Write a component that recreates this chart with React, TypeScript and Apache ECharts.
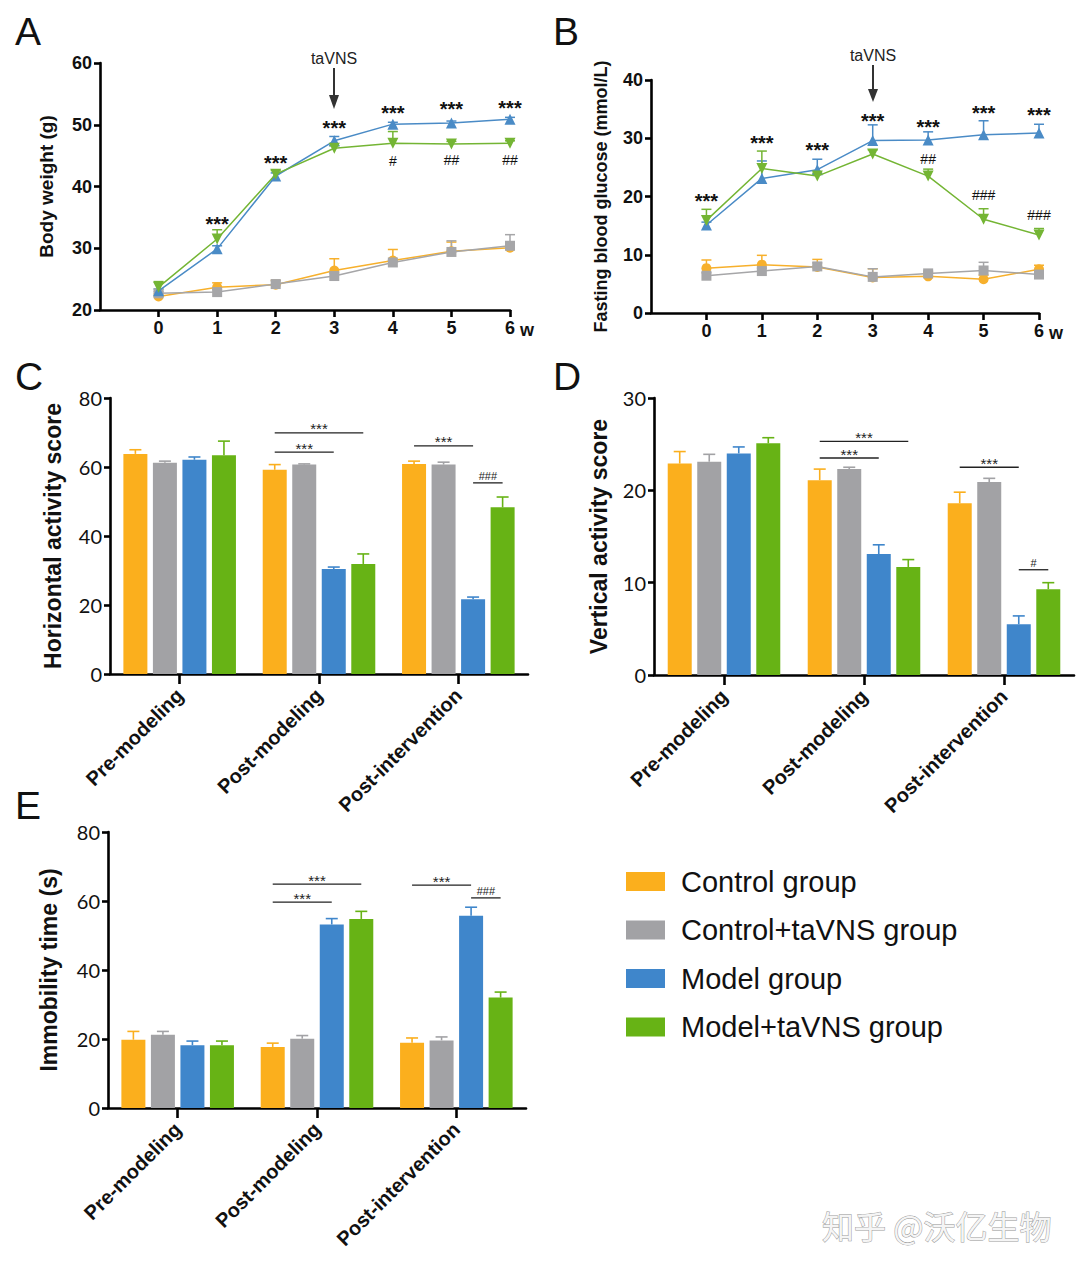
import React, { useEffect, useRef } from "react";
import * as echarts from "echarts";

const groups = ["Control group", "Control+taVNS group", "Model group", "Model+taVNS group"];
const barColors = ["#FBAF1D", "#A2A2A5", "#3F86CB", "#67B315"];
const lineColors = ["#F7B02C", "#A6A6A8", "#4A8BC6", "#74B534"];
const symbols = ["circle", "rect", "triangle", "triangle"];
const symbolRotates = [0, 0, 0, 180];

const weeks = [0, 1, 2, 3, 4, 5, 6];
const weightMean = [
  [22.2, 23.7, 24.1, 26.4, 28.0, 29.5, 30.1],
  [22.7, 22.9, 24.2, 25.5, 27.7, 29.4, 30.4],
  [23.1, 29.9, 41.7, 47.4, 50.1, 50.3, 50.9],
  [23.7, 31.5, 42.0, 46.2, 47.0, 46.9, 47.0],
];
const weightErr = [
  [22.6, 24.4, 24.8, 28.3, 29.8, 31.0, 31.0],
  [23.0, 23.3, 24.7, 26.0, 28.1, 31.2, 32.2],
  [23.4, 30.4, 42.2, 48.1, 50.4, 50.6, 51.2],
  [24.6, 33.0, 42.6, 46.6, 48.9, 47.3, 47.4],
];
const weightSig: [number, number, string][] = [
  [1, 34.5, "***"], [2, 44.4, "***"], [3, 50.1, "***"], [4, 52.6, "***"], [5, 53.2, "***"], [6, 53.4, "***"],
  [4, 44.1, "#"], [5, 44.3, "##"], [6, 44.3, "##"],
];

const glucoseMean = [
  [7.7, 8.3, 7.9, 6.1, 6.3, 5.8, 7.5],
  [6.4, 7.2, 8.0, 6.2, 6.8, 7.3, 6.6],
  [15.1, 23.1, 24.6, 29.6, 29.7, 30.6, 30.9],
  [15.9, 24.8, 23.5, 27.3, 23.5, 16.1, 13.4],
];
const glucoseErr = [
  [9.1, 9.9, 9.2, 7.6, 7.0, 6.5, 8.2],
  [6.9, 7.7, 8.6, 7.6, 7.2, 8.7, 7.1],
  [15.6, 26.1, 26.4, 32.3, 31.1, 33.0, 32.4],
  [17.8, 27.8, 24.0, 28.0, 24.7, 17.9, 14.5],
];
const glucoseSig: [number, number, string][] = [
  [0, 19.9, "***"], [1, 29.8, "***"], [2, 28.6, "***"], [3, 33.7, "***"], [4, 32.7, "***"], [5, 35.0, "***"], [6, 34.7, "***"],
  [4, 26.4, "##"], [5, 20.3, "###"], [6, 16.9, "###"],
];

const phases = ["Pre-modeling", "Post-modeling", "Post-intervention"];
const horizMean = [
  [63.8, 59.2, 60.9],
  [61.2, 60.7, 60.7],
  [62.1, 30.4, 21.7],
  [63.4, 31.9, 48.3],
];
const horizErr = [
  [65.0, 60.7, 61.7],
  [61.7, 60.9, 61.4],
  [62.9, 31.0, 22.3],
  [67.5, 34.8, 51.3],
];
const horizSig: [number, number, number, number, string][] = [
  [1, 0, 3, 69.9, "***"], [1, 0, 2, 64.3, "***"], [2, 0, 2, 66.1, "***"], [2, 2, 3, 55.4, "###"],
];

const vertMean = [
  [22.9, 21.1, 18.6],
  [23.1, 22.3, 20.9],
  [24.0, 13.1, 5.5],
  [25.1, 11.7, 9.3],
];
const vertErr = [
  [24.2, 22.3, 19.8],
  [23.9, 22.5, 21.3],
  [24.7, 14.1, 6.4],
  [25.7, 12.5, 10.0],
];
const vertSig: [number, number, number, number, string][] = [
  [1, 0, 3, 25.3, "***"], [1, 0, 2, 23.5, "***"], [2, 0, 2, 22.5, "***"], [2, 2, 3, 11.4, "#"],
];

const immobMean = [
  [19.8, 17.7, 18.9],
  [21.2, 20.1, 19.6],
  [18.2, 53.2, 55.7],
  [18.2, 54.8, 32.0],
];
const immobErr = [
  [22.2, 18.8, 20.3],
  [22.2, 21.0, 20.6],
  [19.4, 54.9, 58.2],
  [19.4, 57.0, 33.6],
];
const immobSig: [number, number, number, number, string][] = [
  [1, 0, 3, 64.9, "***"], [1, 0, 2, 59.7, "***"], [2, 0, 2, 64.6, "***"], [2, 2, 3, 60.9, "###"],
];

const ARIAL = "'Liberation Sans', Arial, Helvetica, sans-serif";
const LATO = "Lato, 'Open Sans', sans-serif";
const BAR_W = 24;
const BAR_GAP = 0.23;
const STEP = BAR_W * (1 + BAR_GAP);

function buildOption() {
  const grids = [
    { left: 100, top: 63, width: 410, height: 247 },
    { left: 651, top: 80, width: 388, height: 233 },
    { left: 110, top: 398, width: 418, height: 276 },
    { left: 654, top: 398, width: 420, height: 277 },
    { left: 108, top: 832, width: 418, height: 276 },
  ];

  const axisLine = { show: true, onZero: false, lineStyle: { color: "#000", width: 2.6 } };

  const lineX = (i: number) => ({
    gridIndex: i,
    type: "value",
    min: -1,
    max: 6,
    interval: 1,
    axisLine,
    axisTick: { show: true, length: 7, lineStyle: { color: "#000", width: 2.6 }, customValues: weeks },
    axisLabel: { customValues: weeks, fontFamily: ARIAL, fontWeight: "bold", fontSize: 18, color: "#111", margin: 9 },
    splitLine: { show: false },
  });
  const lineY = (i: number, min: number, max: number, name: string, gap: number, fs: number) => ({
    gridIndex: i,
    type: "value",
    min,
    max,
    interval: 10,
    axisLine,
    axisTick: { show: true, length: 6, lineStyle: { color: "#000", width: 2.6 } },
    axisLabel: { fontFamily: ARIAL, fontWeight: "bold", fontSize: 18, color: "#111", margin: 8 },
    splitLine: { show: false },
    name,
    nameLocation: "middle",
    nameGap: gap,
    nameTextStyle: { fontFamily: ARIAL, fontWeight: "bold", fontSize: fs, color: "#111" },
  });
  const barX = (i: number) => ({
    gridIndex: i,
    type: "category",
    data: phases,
    axisLine,
    axisTick: { show: true, alignWithLabel: true, length: 10, lineStyle: { color: "#000", width: 2.6 } },
    axisLabel: { interval: 0, rotate: 45, fontFamily: ARIAL, fontWeight: "bold", fontSize: 20, color: "#111", margin: 18 },
    splitLine: { show: false },
  });
  const barY = (i: number, max: number, interval: number, name: string, gap: number) => ({
    gridIndex: i,
    type: "value",
    min: 0,
    max,
    interval,
    axisLine,
    axisTick: { show: true, length: 6, lineStyle: { color: "#000", width: 2.6 } },
    axisLabel: { fontFamily: LATO, fontSize: 20, color: "#111", margin: 8 },
    splitLine: { show: false },
    name,
    nameLocation: "middle",
    nameGap: gap,
    nameTextStyle: { fontFamily: ARIAL, fontWeight: "bold", fontSize: 23, color: "#111" },
  });

  const series: any[] = [];

  const barPanels = [
    { idx: 2, mean: horizMean, err: horizErr, sig: horizSig },
    { idx: 3, mean: vertMean, err: vertErr, sig: vertSig },
    { idx: 4, mean: immobMean, err: immobErr, sig: immobSig },
  ];
  barPanels.forEach((p) => {
    groups.forEach((g, k) => {
      series.push({
        name: g,
        type: "bar",
        xAxisIndex: p.idx,
        yAxisIndex: p.idx,
        data: p.mean[k],
        barWidth: BAR_W,
        barGap: `${BAR_GAP * 100}%`,
        itemStyle: { color: barColors[k] },
        z: 2,
      });
    });
    groups.forEach((g, k) => {
      series.push({
        type: "custom",
        xAxisIndex: p.idx,
        yAxisIndex: p.idx,
        data: phases.map((_, j) => [j, p.mean[k][j], p.err[k][j]]),
        z: 1,
        silent: true,
        renderItem: (params: any, api: any) => {
          const c = api.value(0);
          const a = api.coord([c, api.value(1)]);
          const b = api.coord([c, api.value(2)]);
          const x = a[0] + (k - 1.5) * STEP;
          const col = barColors[k];
          return {
            type: "group",
            children: [
              { type: "line", shape: { x1: x, y1: a[1], x2: x, y2: b[1] }, style: { stroke: col, lineWidth: 1.6 } },
              { type: "line", shape: { x1: x - 6, y1: b[1], x2: x + 6, y2: b[1] }, style: { stroke: col, lineWidth: 1.6 } },
            ],
          };
        },
      });
    });
    series.push({
      type: "custom",
      xAxisIndex: p.idx,
      yAxisIndex: p.idx,
      data: p.sig.map((s) => [s[0], s[3]]),
      z: 5,
      silent: true,
      renderItem: (params: any, api: any) => {
        const s = p.sig[params.dataIndex];
        const base = api.coord([s[0], s[3]]);
        const x1 = base[0] + (s[1] - 1.5) * STEP;
        const x2 = base[0] + (s[2] - 1.5) * STEP;
        const isStar = s[4].indexOf("*") >= 0;
        return {
          type: "group",
          children: [
            { type: "line", shape: { x1, y1: base[1], x2, y2: base[1] }, style: { stroke: "#222", lineWidth: 1.3 } },
            {
              type: "text",
              x: (x1 + x2) / 2,
              y: base[1] - (isStar ? 4 : 7),
              style: {
                text: s[4],
                fontFamily: ARIAL,
                fontSize: isStar ? 15 : 11,
                fill: "#222",
                align: "center",
                verticalAlign: "middle",
              },
            },
          ],
        };
      },
    });
  });

  const linePanels = [
    { idx: 0, mean: weightMean, err: weightErr, sig: weightSig },
    { idx: 1, mean: glucoseMean, err: glucoseErr, sig: glucoseSig },
  ];
  linePanels.forEach((p) => {
    groups.forEach((g, k) => {
      series.push({
        type: "custom",
        xAxisIndex: p.idx,
        yAxisIndex: p.idx,
        data: weeks.map((w, j) => [w, p.mean[k][j], p.err[k][j]]),
        z: 2,
        silent: true,
        renderItem: (params: any, api: any) => {
          const a = api.coord([api.value(0), api.value(1)]);
          const b = api.coord([api.value(0), api.value(2)]);
          const col = lineColors[k];
          return {
            type: "group",
            children: [
              { type: "line", shape: { x1: a[0], y1: a[1], x2: b[0], y2: b[1] }, style: { stroke: col, lineWidth: 1.5 } },
              { type: "line", shape: { x1: b[0] - 5, y1: b[1], x2: b[0] + 5, y2: b[1] }, style: { stroke: col, lineWidth: 1.5 } },
            ],
          };
        },
      });
    });
    groups.forEach((g, k) => {
      series.push({
        name: g,
        type: "line",
        xAxisIndex: p.idx,
        yAxisIndex: p.idx,
        data: weeks.map((w, j) => [w, p.mean[k][j]]),
        symbol: symbols[k],
        symbolSize: k >= 2 ? 11 : 10,
        symbolRotate: symbolRotates[k],
        lineStyle: { color: lineColors[k], width: 1.5 },
        itemStyle: { color: lineColors[k] },
        z: 3 + k,
        silent: true,
      });
    });
    series.push({
      type: "custom",
      xAxisIndex: p.idx,
      yAxisIndex: p.idx,
      data: p.sig.map((s) => [s[0], s[1]]),
      z: 10,
      silent: true,
      renderItem: (params: any, api: any) => {
        const s = p.sig[params.dataIndex];
        const c = api.coord([s[0], s[1]]);
        const isStar = s[2].indexOf("*") >= 0;
        return {
          type: "text",
          x: c[0],
          y: c[1] + (isStar ? 4 : 0),
          style: {
            text: s[2],
            fontFamily: ARIAL,
            fontWeight: isStar ? "bold" : "normal",
            fontSize: isStar ? 20 : 14,
            fill: "#111",
            align: "center",
            verticalAlign: "middle",
          },
        };
      },
    });
  });

  const letter = (t: string, x: number, y: number) => ({
    type: "text",
    left: x,
    top: y,
    style: { text: t, fontFamily: ARIAL, fontSize: 39, fill: "#111" },
  });

  const graphic: any[] = [
    letter("A", 15, 12),
    letter("B", 553, 12),
    letter("C", 15, 357),
    letter("D", 553, 357),
    letter("E", 15, 786),
    { type: "text", x: 334, y: 58, style: { text: "taVNS", fontFamily: ARIAL, fontSize: 16, fill: "#222", align: "center", verticalAlign: "middle" } },
    { type: "line", shape: { x1: 334, y1: 68, x2: 334, y2: 98 }, style: { stroke: "#333", lineWidth: 2 } },
    { type: "polygon", shape: { points: [[329, 95], [339, 95], [334, 109]] }, style: { fill: "#333" } },
    { type: "text", x: 873, y: 55, style: { text: "taVNS", fontFamily: ARIAL, fontSize: 16, fill: "#222", align: "center", verticalAlign: "middle" } },
    { type: "line", shape: { x1: 873, y1: 65, x2: 873, y2: 92 }, style: { stroke: "#333", lineWidth: 2 } },
    { type: "polygon", shape: { points: [[868, 89], [878, 89], [873, 102]] }, style: { fill: "#333" } },
    { type: "text", x: 520, y: 330, style: { text: "w", fontFamily: ARIAL, fontWeight: "bold", fontSize: 18, fill: "#111", verticalAlign: "middle" } },
    { type: "text", x: 1049, y: 333, style: { text: "w", fontFamily: ARIAL, fontWeight: "bold", fontSize: 18, fill: "#111", verticalAlign: "middle" } },
    {
      type: "text",
      x: 822,
      y: 1225,
      style: {
        text: "知乎 @沃亿生物",
        fontFamily: "'Noto Sans CJK SC', sans-serif",
        fontSize: 32,
        fill: "#f5f5f5",
        stroke: "#9a9a9a",
        lineWidth: 1,
        verticalAlign: "middle",
      },
    },
  ];

  return {
    animation: false,
    backgroundColor: "#fff",
    grid: grids,
    xAxis: [lineX(0), lineX(1), barX(2), barX(3), barX(4)],
    yAxis: [
      lineY(0, 20, 60, "Body weight (g)", 44, 19),
      lineY(1, 0, 40, "Fasting blood glucose (mmol/L)", 41, 18),
      barY(2, 80, 20, "Horizontal activity score", 46),
      barY(3, 30, 10, "Vertical activity score", 44),
      barY(4, 80, 20, "Immobility time (s)", 48),
    ],
    legend: {
      data: groups,
      orient: "vertical",
      left: 621,
      top: 861,
      icon: "rect",
      itemWidth: 39,
      itemHeight: 19,
      itemGap: 17.5,
      selectedMode: false,
      textStyle: { fontFamily: ARIAL, fontSize: 29, color: "#111", lineHeight: 31, padding: [0, 0, 0, 11] },
    },
    graphic,
    series,
  };
}

export default function App() {
  const ref = useRef<HTMLDivElement>(null);
  useEffect(() => {
    if (!ref.current) return;
    const chart = echarts.init(ref.current, undefined, { renderer: "svg" });
    chart.setOption(buildOption() as any);
    return () => chart.dispose();
  }, []);
  return <div ref={ref} style={{ position: "absolute", left: 0, top: 0, width: 1080, height: 1269 }} />;
}
